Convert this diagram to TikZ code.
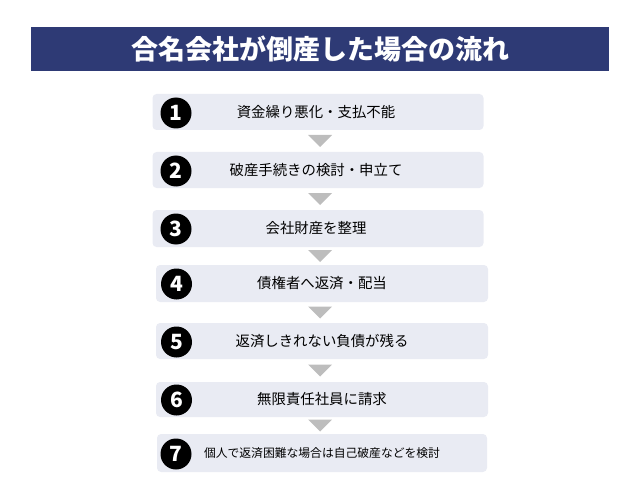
\documentclass[tikz,border=0pt]{standalone}
\usepackage{fontspec}
\setmainfont{Noto Sans CJK JP}
\usetikzlibrary{calc}
\definecolor{titlenavy}{HTML}{2E3A75}
\definecolor{stepfill}{HTML}{E9EBF3}
\definecolor{arrowgray}{HTML}{BDBDBD}
\tikzset{
  stepbox/.style={fill=stepfill, rounded corners=4pt, inner sep=0pt,
    minimum width=331pt, minimum height=36pt, font=\fontsize{14.4}{16}\selectfont},
  numdot/.style={circle, fill=black, minimum size=31pt, inner sep=0pt,
    text=white, font=\bfseries\fontsize{21}{21}\selectfont},
  downtip/.style={fill=arrowgray},
}
\begin{document}
\begin{tikzpicture}[x=1pt,y=-1pt]
\useasboundingbox (0,0) rectangle (640,500);
\node[fill=titlenavy, minimum width=578pt, minimum height=44pt, inner sep=0pt,
  text=white, font=\bfseries\fontsize{27}{27}\selectfont] (title) at (320,49) {合名会社が倒産した場合の流れ};
  %\draw[step=10pt,gray,very thin] (0,0) grid (640,500);
  \node[stepbox] (s1) at (318,112) {\hspace{-4pt}資金繰り悪化・支払不能};
  \node[stepbox] (s2) at (318,170) {\hspace{-4pt}破産手続きの検討・申立て};
  \node[stepbox, minimum height=37pt] (s3) at (318,228.5) {\hspace{-4pt}会社財産を整理};
  \node[stepbox, minimum width=332pt, minimum height=37pt] (s4) at (322,283.5) {債権者へ返済・配当};
  \node[stepbox, minimum width=332pt] (s5) at (322,341) {返済しきれない負債が残る};
  \node[stepbox, minimum width=332pt, minimum height=35pt] (s6) at (322,399.5) {無限責任社員に請求};
  \node[stepbox, minimum width=330pt, minimum height=38pt, font=\fontsize{11.8}{13}\selectfont] (s7) at (322,453) {個人で返済困難な場合は自己破産などを検討};
  \node[numdot] (n1) at (176,113) {1};
  \node[numdot] (n2) at (176,171) {2};
  \node[numdot] (n3) at (176,229) {3};
  \node[numdot] (n4) at (176.5,284) {4};
  \node[numdot] (n5) at (176.5,342) {5};
  \node[numdot] (n6) at (176.5,400) {6};
  \node[numdot] (n7) at (176,454) {7};
  \coordinate (a1) at ($(s1.south)!0.5!(s2.north)$);
  \coordinate (a2) at ($(s2.south)!0.5!(s3.north)$);
  \coordinate (a3) at ($(s3.south)!0.5!(s4.north)$);
  \coordinate (a4) at ($(s4.south)!0.5!(s5.north)$);
  \coordinate (a5) at ($(s5.south)!0.5!(s6.north)$);
  \coordinate (a6) at ($(s6.south)!0.5!(s7.north)$);
  \fill[downtip] ($(title |- a1)+(-12,-6)$) -- ($(title |- a1)+(12,-6)$) -- ($(title |- a1)+(0,6)$) -- cycle;
  \fill[downtip] ($(title |- a2)+(-12,-6)$) -- ($(title |- a2)+(12,-6)$) -- ($(title |- a2)+(0,6)$) -- cycle;
  \fill[downtip] ($(title |- a3)+(-12,-6)$) -- ($(title |- a3)+(12,-6)$) -- ($(title |- a3)+(0,6)$) -- cycle;
  \fill[downtip] ($(title |- a4)+(-12,-6)$) -- ($(title |- a4)+(12,-6)$) -- ($(title |- a4)+(0,6)$) -- cycle;
  \fill[downtip] ($(title |- a5)+(-12,-6)$) -- ($(title |- a5)+(12,-6)$) -- ($(title |- a5)+(0,6)$) -- cycle;
  \fill[downtip] ($(title |- a6)+(-12,-6)$) -- ($(title |- a6)+(12,-6)$) -- ($(title |- a6)+(0,6)$) -- cycle;
\end{tikzpicture}
\end{document}
